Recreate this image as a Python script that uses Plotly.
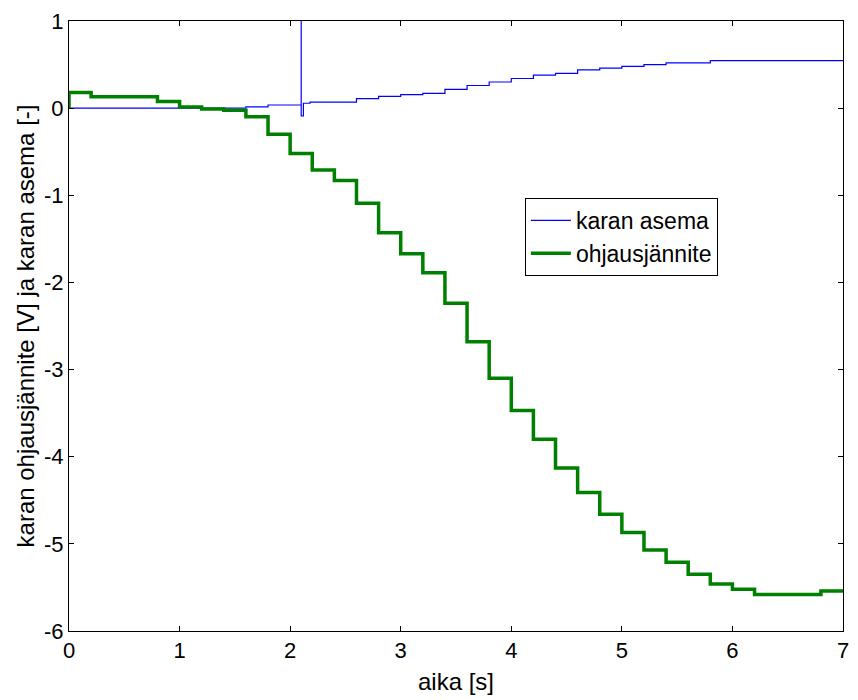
import plotly.graph_objects as go

# Control voltage (ohjausjännite): zero-order-hold steps, value held from each start time
green_t = [0.0, 0.0, 0.2, 0.4, 0.6, 0.8, 1.0, 1.2, 1.4, 1.6, 1.8, 2.0, 2.2, 2.4, 2.6, 2.8,
           3.0, 3.2, 3.4, 3.6, 3.8, 4.0, 4.2, 4.4, 4.6, 4.8, 5.0, 5.2, 5.4, 5.6, 5.8,
           6.0, 6.2, 6.4, 6.6, 6.8, 7.0]
green_v = [0.0, 0.18, 0.13, 0.13, 0.13, 0.075, 0.014, -0.01, -0.024, -0.10, -0.30, -0.52,
           -0.71, -0.83, -1.09, -1.43, -1.67, -1.89, -2.24, -2.68, -3.10, -3.47, -3.80,
           -4.13, -4.41, -4.66, -4.87, -5.07, -5.21, -5.35, -5.46, -5.52, -5.58, -5.58,
           -5.58, -5.54, -5.54]

# Spindle position (karan asema)
blue_t = [0.0, 1.6, 1.8, 2.1, 2.1, 2.12, 2.18, 2.6, 2.8, 3.0, 3.2, 3.4, 3.6, 3.8, 4.0,
          4.2, 4.4, 4.6, 4.8, 5.0, 5.2, 5.4, 5.8, 7.0]
blue_v = [0.0, 0.015, 0.036, 1.3, -0.09, 0.056, 0.07, 0.11, 0.135, 0.155, 0.17, 0.215,
          0.26, 0.30, 0.34, 0.38, 0.40, 0.44, 0.46, 0.48, 0.50, 0.52, 0.545, 0.545]

x_ticks = [0, 1, 2, 3, 4, 5, 6, 7]
y_ticks = [-6, -5, -4, -3, -2, -1, 0, 1]

fig = go.Figure()
fig.add_trace(go.Scatter(x=blue_t, y=blue_v, mode="lines", name="karan asema",
                         line=dict(color="rgb(0,0,255)", width=1.2, shape="hv")))
fig.add_trace(go.Scatter(x=green_t, y=green_v, mode="lines", name="ohjausjännite",
                         line=dict(color="rgb(0,128,0)", width=3.5, shape="hv")))

font = "Liberation Sans, Arial, sans-serif"
axis_common = dict(showline=True, linecolor="black", linewidth=1, mirror="ticks",
                   ticks="inside", ticklen=5, tickcolor="black", showgrid=False,
                   zeroline=False, tickfont=dict(family=font, size=22, color="black"))

fig.update_layout(
    width=858, height=700,
    margin=dict(l=69, r=9, t=16, b=69),
    paper_bgcolor="white", plot_bgcolor="white",
    font=dict(family=font, size=22, color="black"),
    showlegend=True,
    legend=dict(x=0.589, y=0.71, xanchor="left", yanchor="top",
                bordercolor="black", borderwidth=1, bgcolor="white",
                font=dict(family=font, size=23, color="black"),
                tracegroupgap=0, itemwidth=40, entrywidth=178, entrywidthmode="pixels"),
    xaxis=dict(range=[0, 7], tickvals=x_ticks, ticktext=[str(v) for v in x_ticks],
               title=dict(text="aika [s]", font=dict(family=font, size=24), standoff=10),
               **axis_common),
    yaxis=dict(range=[-6, 1], tickvals=y_ticks, ticktext=[str(v) for v in y_ticks],
               title=dict(text="karan ohjausjännite [V] ja karan asema [-]",
                          font=dict(family=font, size=24), standoff=2),
               **axis_common),
)

fig.write_html("out.html")
